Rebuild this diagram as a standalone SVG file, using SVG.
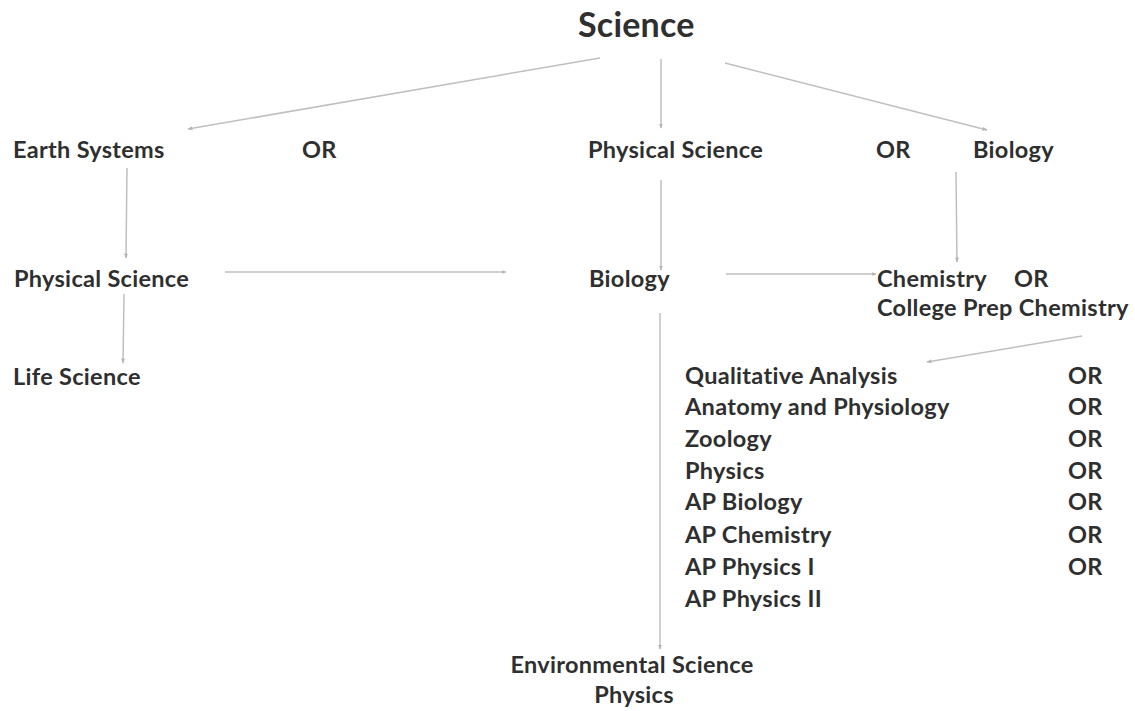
<svg xmlns="http://www.w3.org/2000/svg" width="1135" height="711" viewBox="0 0 1135 711">
<defs>
<style>
text{font-family:Lato,"Liberation Sans",sans-serif;font-weight:bold;font-size:23.5px;fill:#2f2f2f;letter-spacing:0.3px}
.title{font-size:34px;letter-spacing:0.2px}
.c line{stroke:#bfbfbf;stroke-width:1.5;fill:none;marker-end:url(#ah)}
</style>
<marker id="ah" viewBox="0 0 10 10" refX="9" refY="5" markerWidth="5" markerHeight="5" orient="auto" markerUnits="userSpaceOnUse"><path d="M0,1 L10,5 L0,9 z" fill="#b5b5b5"/></marker>
</defs>
<rect width="1135" height="711" fill="#fff"/>
<g class="c" id="connectors">
<line x1="600" y1="58" x2="188" y2="129"/>
<line x1="661" y1="59" x2="661" y2="128"/>
<line x1="725" y1="63" x2="987" y2="130"/>
<line x1="127" y1="168" x2="126" y2="258"/>
<line x1="124" y1="294" x2="123" y2="363"/>
<line x1="225" y1="272" x2="506" y2="272"/>
<line x1="661" y1="180" x2="661" y2="270"/>
<line x1="726" y1="274" x2="876" y2="274"/>
<line x1="956" y1="172" x2="957" y2="262"/>
<line x1="1082" y1="336" x2="927" y2="362"/>
<line x1="660" y1="313" x2="660" y2="649"/>
</g>
<g id="n-science"><text class="title" x="578" y="37">Science</text></g>
<g id="n-earth"><text x="13" y="158">Earth Systems</text></g>
<g id="or1"><text x="302" y="158">OR</text></g>
<g id="n-phys1"><text x="588" y="158">Physical Science</text></g>
<g id="or2"><text x="876" y="158">OR</text></g>
<g id="n-bio1"><text x="973" y="158">Biology</text></g>
<g id="n-phys2"><text x="14" y="287">Physical Science</text></g>
<g id="n-bio2"><text x="589" y="287">Biology</text></g>
<g id="n-chem"><text x="877" y="287">Chemistry</text><text x="1014" y="287">OR</text><text x="877" y="316">College Prep Chemistry</text></g>
<g id="n-life"><text x="13" y="385">Life Science</text></g>
<g id="n-list">
<text x="685" y="384">Qualitative Analysis</text>
<text x="685" y="415">Anatomy and Physiology</text>
<text x="685" y="447">Zoology</text>
<text x="685" y="479">Physics</text>
<text x="685" y="510">AP Biology</text>
<text x="685" y="543">AP Chemistry</text>
<text x="685" y="575">AP Physics I</text>
<text x="685" y="607">AP Physics II</text>
<text x="1068" y="384">OR</text>
<text x="1068" y="415">OR</text>
<text x="1068" y="447">OR</text>
<text x="1068" y="479">OR</text>
<text x="1068" y="510">OR</text>
<text x="1068" y="543">OR</text>
<text x="1068" y="575">OR</text>
</g>
<g id="n-env"><text x="632" y="673" text-anchor="middle">Environmental Science</text><text x="634" y="703" text-anchor="middle">Physics</text></g>
</svg>
